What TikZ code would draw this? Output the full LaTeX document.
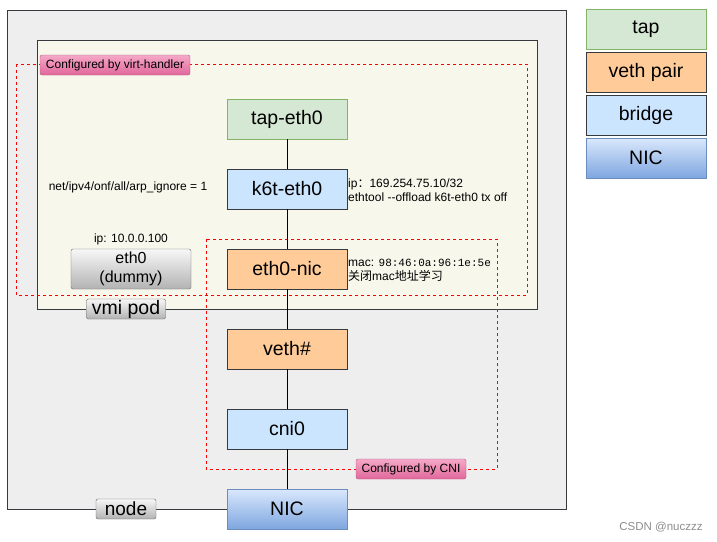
\documentclass[tikz,border=0pt]{standalone}
\usepackage{fontspec}
\setmainfont{Liberation Sans}
\setmonofont{Liberation Mono}
\newfontfamily\cjk{Noto Sans CJK SC}
\usetikzlibrary{positioning}
\definecolor{edgegray}{HTML}{36393D}
\definecolor{hostfill}{HTML}{EEEEEE}
\definecolor{podfill}{HTML}{F8F7EC}
\definecolor{tapfill}{HTML}{D5E8D4}
\definecolor{tapedge}{HTML}{82B366}
\definecolor{vethfill}{HTML}{FFCC99}
\definecolor{brfill}{HTML}{CCE5FF}
\definecolor{nictop}{HTML}{DAE8FC}
\definecolor{nicbot}{HTML}{7EA6E0}
\definecolor{nicedge}{HTML}{6C8EBF}
\definecolor{pinktop}{HTML}{F5A9C8}
\definecolor{pinkbot}{HTML}{E0679A}
\definecolor{pinkedge}{HTML}{B5577F}
\tikzset{
  dev/.style={draw=edgegray, line width=0.8pt, minimum width=120pt, minimum height=40pt,
    inner sep=0pt, font=\fontsize{19.5}{22}\selectfont},
  tapbox/.style={dev, fill=tapfill, draw=tapedge},
  vethbox/.style={dev, fill=vethfill},
  brbox/.style={dev, fill=brfill},
  nicbox/.style={dev, top color=nictop, bottom color=nicbot, draw=nicedge},
  graybox/.style={draw=black!60, rounded corners=2pt, top color=black!3, bottom color=black!30,
    inner sep=0pt},
  tagbox/.style={draw=pinkedge, rounded corners=2pt, top color=pinktop, bottom color=pinkbot,
    inner sep=0pt, minimum height=20pt, font=\fontsize{12}{14}\selectfont},
  note/.style={inner sep=0pt, font=\fontsize{12}{14}\selectfont, align=left},
  cfgline/.style={red, dash pattern=on 3pt off 3pt, line width=0.8pt}
}
\begin{document}
\begin{tikzpicture}[x=1pt, y=-1pt]
  \useasboundingbox (0,0) rectangle (717,541);
  % host and pod
  \draw[fill=hostfill, draw=edgegray, line width=1pt] (7,10) rectangle (566,509);
  \draw[fill=podfill, draw=edgegray, line width=1pt] (37,40) rectangle (537,309);
  % configured areas
  \draw[cfgline] (16,64) rectangle (527,295);
  \draw[cfgline] (206,239) rectangle (497,469);

  \node[tapbox]  (tapeth) at (287,119) {tap-eth0};
  \node[brbox]   (kteth)  at (287,189) {k6t-eth0};
  \node[vethbox] (ethnic) at (287,269) {eth0-nic};
  \node[vethbox] (veth)   at (287,349) {veth\#};
  \node[brbox]   (cni)    at (287,429) {cni0};
  \node[nicbox]  (nic)    at (287,509) {NIC};
  \draw (tapeth) -- (kteth);
  \draw (kteth) -- (ethnic);
  \draw (ethnic) -- (veth);
  \draw (veth) -- (cni);
  \draw (cni) -- (nic);

  \node[graybox, minimum width=120pt, minimum height=40pt, align=center,
        font=\fontsize{16}{19}\selectfont] (dummy) at (131,269) {eth0\\(dummy)};
  \node[note, above=4pt of dummy] (dummyip) {ip: 10.0.0.100};
  \node[note] (arp) at (128,187) {net/ipv4/onf/all/arp\_ignore = 1};
  \node[note, anchor=west] (ktinfo) at (348,190)
    {ip{\cjk ：}169.254.75.10/32\\ethtool -{}-offload k6t-eth0 tx off};
  \node[note, anchor=west] (nicinfo) at (348,270)
    {mac: {\ttfamily\fontsize{11}{14}\selectfont 98:46:0a:96:1e:5e}\\{\cjk 关闭}mac{\cjk 地址学习}};

  \node[tagbox, minimum width=150pt] (vhtag) at (115,65) {Configured by virt-handler};
  \node[tagbox, minimum width=110pt] (cnitag) at (411,469) {Configured by CNI};
  \node[graybox, minimum width=79pt, minimum height=20pt,
        font=\fontsize{19.5}{21}\selectfont] (podtag) at (126,309) {vmi pod};
  \node[graybox, minimum width=60pt, minimum height=20pt,
        font=\fontsize{19}{21}\selectfont] (hosttag) at (126,509) {node};

  % legend
  \node[tapbox]  (lgtap)  at (646,29)  {tap};
  \node[vethbox] (lgveth) at (646,72)  {veth pair};
  \node[brbox]   (lgbr)   at (646,115) {bridge};
  \node[nicbox]  (lgnic)  at (646,158) {NIC};

  \node[inner sep=0pt, text=black!45, font=\fontsize{11.5}{13}\selectfont] (mark) at (661,527) {CSDN @nuczzz};
\end{tikzpicture}
\end{document}
